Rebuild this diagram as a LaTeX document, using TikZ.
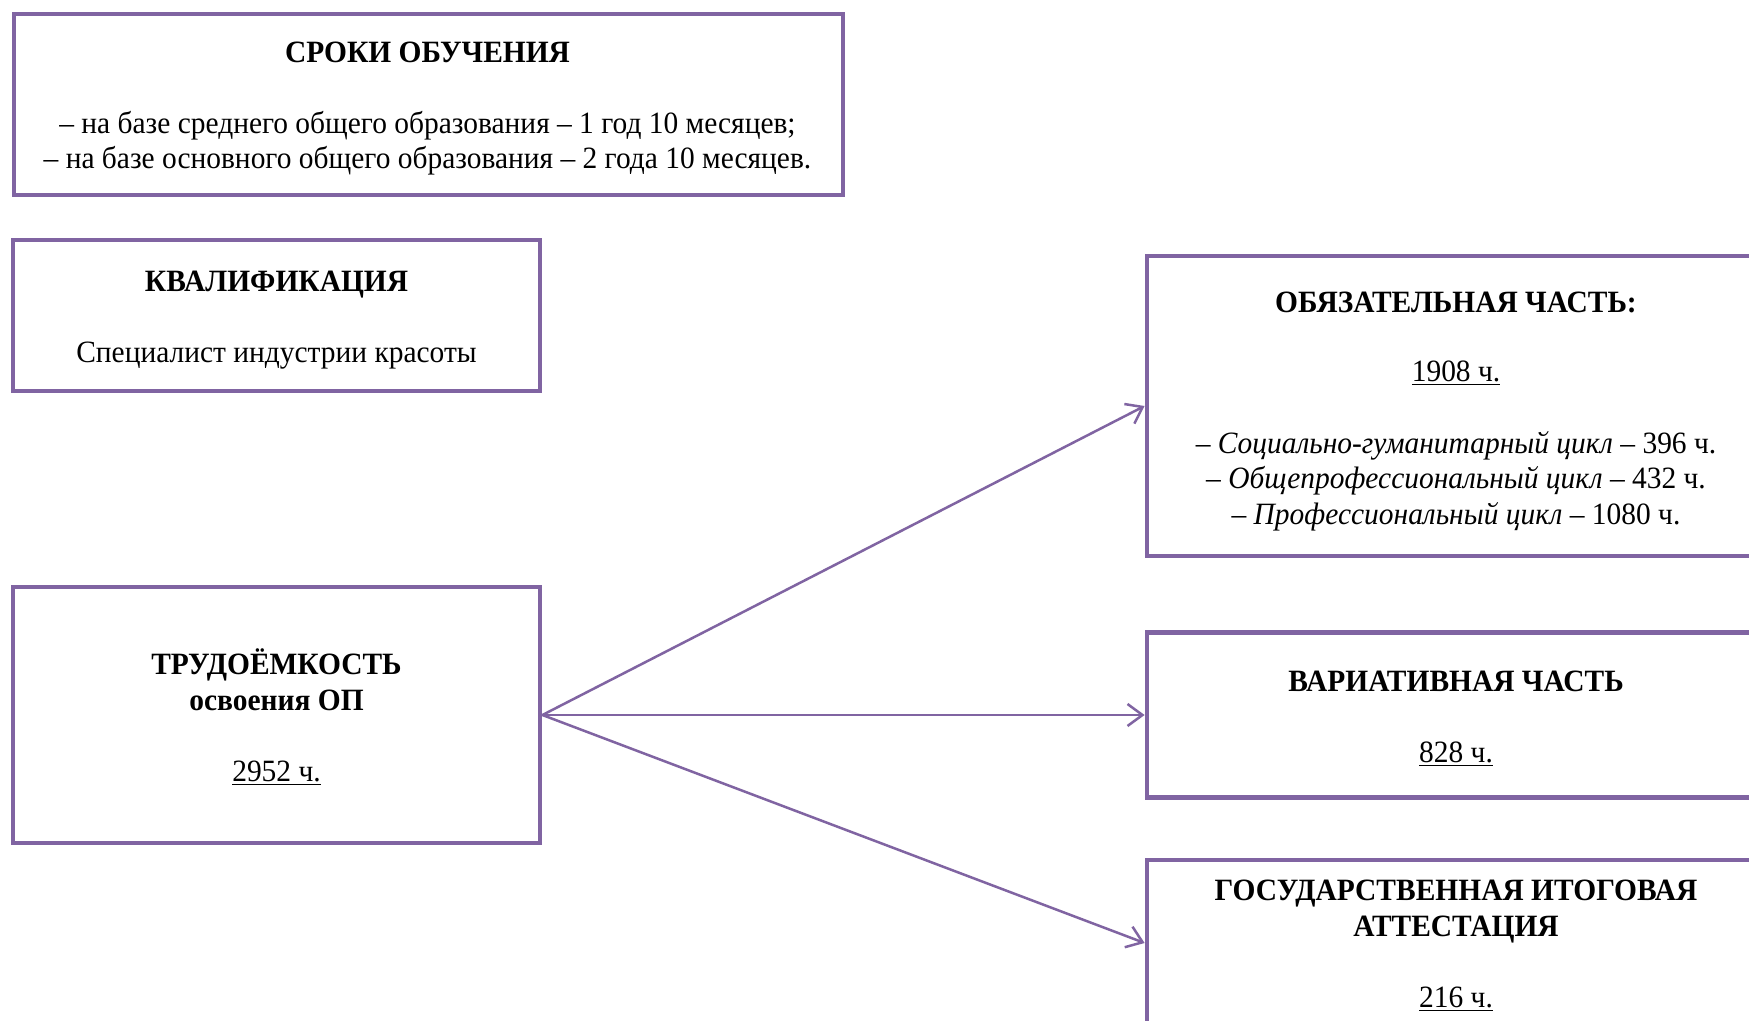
\documentclass[tikz,border=0pt]{standalone}
\usepackage{fontspec}
\setmainfont{Liberation Serif}[FakeStretch=0.95]
\usetikzlibrary{arrows.meta}
\definecolor{frame}{HTML}{8064A2}
\tikzset{
  box/.style={draw=frame, line width=2.4pt, rectangle, inner sep=0pt, fill=white},
  txt/.style={anchor=mid, inner sep=0pt, yshift=-3.4pt, font=\fontsize{15.5}{17.85}\selectfont},
  ttl/.style={txt, font=\fontsize{15.5}{17.85}\selectfont\bfseries},
  arr/.style={draw=frame, line width=1.25pt, -{Straight Barb[length=7.5pt,width=11pt,line width=1.25pt]}}
}
\begin{document}
\begin{tikzpicture}[x=0.5pt,y=-0.5pt]
\useasboundingbox (0,0) rectangle (1749,1021);
\clip (0,0) rectangle (1749,1021);
\fill[white] (0,0) rectangle (1749,1021);
% boxes
\node[box, minimum width=829*0.5pt, minimum height=181*0.5pt] (b1) at (428.5,104.5) {};
\node[box, minimum width=527*0.5pt, minimum height=151*0.5pt] (b2) at (276.5,315.5) {};
\node[box, minimum width=527*0.5pt, minimum height=256*0.5pt] (b3) at (276.5,715) {};
\node[box, minimum width=616*0.5pt, minimum height=300*0.5pt] (b4) at (1455,406) {};
\node[box, minimum width=616*0.5pt, minimum height=165*0.5pt] (b5) at (1455,715) {};
\node[box, minimum width=616*0.5pt, minimum height=166*0.5pt] (b6) at (1455,943) {};
% texts box 1
\node[ttl] (t1a) at (427.5,51) {СРОКИ ОБУЧЕНИЯ};
\node[txt] (t1b) at (427.5,122) {– на базе среднего общего образования – 1 год 10 месяцев;};
\node[txt] (t1c) at (427.5,157) {– на базе основного общего образования – 2 года 10 месяцев.};
% box 2
\node[ttl] (t2a) at (276.5,280) {КВАЛИФИКАЦИЯ};
\node[txt] (t2b) at (276.5,351) {Специалист индустрии красоты};
% box 3
\node[ttl] (t3a) at (276.5,663) {ТРУДОЁМКОСТЬ};
\node[ttl] (t3b) at (276.5,699) {освоения ОП};
\node[txt] (t3c) at (276.5,770) {\underline{2952 ч.}};
% box 4
\node[ttl] (t4a) at (1456,301) {ОБЯЗАТЕЛЬНАЯ ЧАСТЬ:};
\node[txt] (t4b) at (1456,370) {\underline{1908 ч.}};
\node[txt] (t4c) at (1456,442) {– \textit{Социально-гуманитарный цикл} – 396 ч.};
\node[txt] (t4d) at (1456,477) {– \textit{Общепрофессиональный цикл} – 432 ч.};
\node[txt] (t4e) at (1456,513) {– \textit{Профессиональный цикл} – 1080 ч.};
% box 5
\node[ttl] (t5a) at (1456,680) {ВАРИАТИВНАЯ ЧАСТЬ};
\node[txt] (t5b) at (1456,751) {\underline{828 ч.}};
% box 6
\node[ttl] (t6a) at (1456,889) {ГОСУДАРСТВЕННАЯ ИТОГОВАЯ};
\node[ttl] (t6b) at (1456,925) {АТТЕСТАЦИЯ};
\node[txt] (t6c) at (1456,996) {\underline{216 ч.}};
% connectors
\draw[arr] (b3.east) -- (b4.west);
\draw[arr] (b3.east) -- (b5.west);
\draw[arr] (b3.east) -- (b6.west);
\end{tikzpicture}
\end{document}
